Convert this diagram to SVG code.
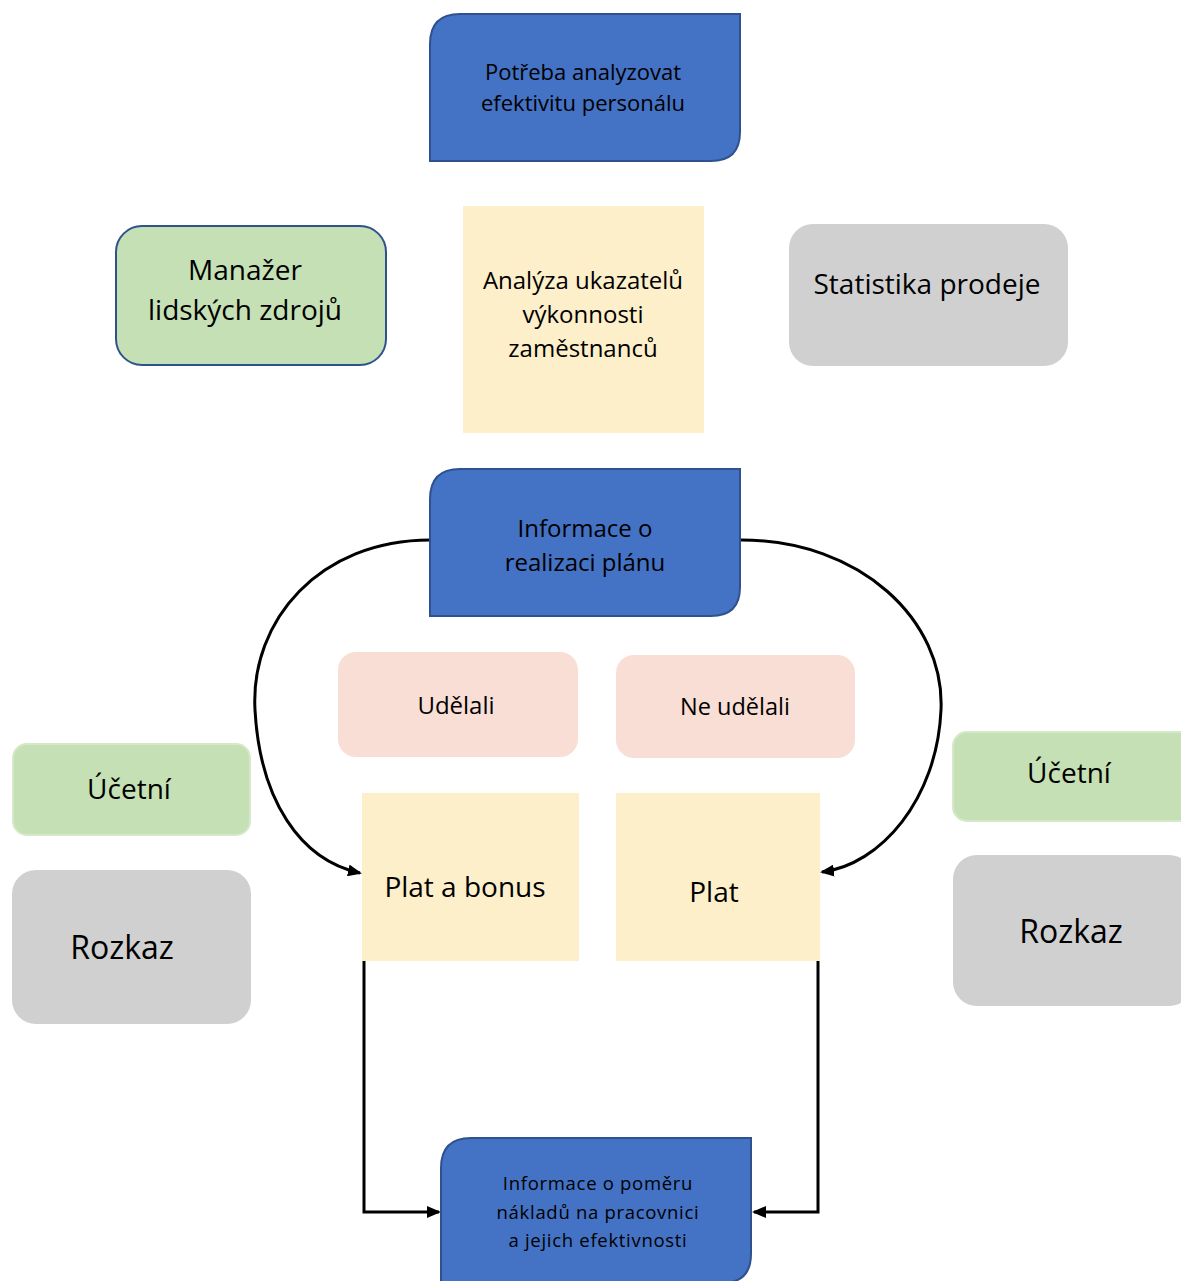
<svg xmlns="http://www.w3.org/2000/svg" width="1181" height="1281" viewBox="0 0 1181 1281">
<defs>
<style>
text{font-family:"Open Sans","Liberation Sans",sans-serif;fill:#000;text-anchor:middle}
.blue{fill:#4472C4;stroke:#2F528F;stroke-width:2}
.green{fill:#C5E0B4}
.gray{fill:#D0D0D0}
.yellow{fill:#FCEFC9}
.pink{fill:#F8DED5}
.conn{fill:none;stroke:#000;stroke-width:3}
</style>
<marker id="arr" markerWidth="14" markerHeight="12" refX="12" refY="6" orient="auto" markerUnits="userSpaceOnUse" viewBox="0 0 14 12">
<path d="M0,0 L14,6 L0,12 z" fill="#000"/>
</marker>
</defs>
<rect width="1181" height="1281" fill="#fff"/>
<g id="connectors">
<path class="conn" d="M430,540 C320,540 250,620 255,710 C260,800 300,860 360,873" marker-end="url(#arr)"/>
<path class="conn" d="M741,540 C860,540 945,620 941,710 C937,800 880,865 822,872" marker-end="url(#arr)"/>
<path class="conn" d="M364,961 L364,1212 L439,1212" marker-end="url(#arr)"/>
<path class="conn" d="M818,961 L818,1212 L754,1212" marker-end="url(#arr)"/>
</g>
<g id="n-potreba">
<path class="blue" d="M460,14 L740,14 L740,132 Q740,161 711,161 L430,161 L430,44 Q430,14 460,14 z"/>
<text x="583" y="80" font-size="22">Potřeba analyzovat</text>
<text x="583" y="111" font-size="22">efektivitu personálu</text>
</g>
<g id="n-manazer">
<rect class="green" x="116" y="226" width="270" height="139" rx="26" stroke="#2F528F" stroke-width="2"/>
<text x="245" y="280" font-size="28">Manažer</text>
<text x="245" y="320" font-size="28">lidských zdrojů</text>
</g>
<g id="n-analyza">
<rect class="yellow" x="463" y="206" width="241" height="227"/>
<text x="583" y="289" font-size="24">Analýza ukazatelů</text>
<text x="583" y="323" font-size="24">výkonnosti</text>
<text x="583" y="357" font-size="24">zaměstnanců</text>
</g>
<g id="n-statistika">
<rect class="gray" x="789" y="224" width="279" height="142" rx="24"/>
<text x="927" y="294" font-size="28">Statistika prodeje</text>
</g>
<g id="n-informace">
<path class="blue" d="M460,469 L740,469 L740,587 Q740,616 711,616 L430,616 L430,499 Q430,469 460,469 z"/>
<text x="585" y="537" font-size="24">Informace o</text>
<text x="585" y="571" font-size="24">realizaci plánu</text>
</g>
<g id="n-udelali">
<rect class="pink" x="338" y="652" width="240" height="105" rx="18"/>
<text x="456" y="714" font-size="24">Udělali</text>
</g>
<g id="n-neudelali">
<rect class="pink" x="616" y="655" width="239" height="103" rx="18"/>
<text x="735" y="715" font-size="23.5">Ne udělali</text>
</g>
<g id="n-ucetni-l">
<rect class="green" x="13" y="744" width="237" height="91" rx="14" stroke="#D5E8C8" stroke-width="2"/>
<text x="129" y="799" font-size="28">Účetní</text>
</g>
<g id="n-rozkaz-l">
<rect class="gray" x="12" y="870" width="239" height="154" rx="24"/>
<text x="122" y="959" font-size="32">Rozkaz</text>
</g>
<g id="n-ucetni-r">
<rect class="green" x="953" y="732" width="240" height="89" rx="14" stroke="#D5E8C8" stroke-width="2"/>
<text x="1069" y="783" font-size="28">Účetní</text>
</g>
<g id="n-rozkaz-r">
<rect class="gray" x="953" y="855" width="240" height="151" rx="24"/>
<text x="1071" y="943" font-size="32">Rozkaz</text>
</g>
<g id="n-platbonus">
<rect class="yellow" x="362" y="793" width="217" height="168"/>
<text x="465" y="897" font-size="28">Plat a bonus</text>
</g>
<g id="n-plat">
<rect class="yellow" x="616" y="793" width="204" height="168"/>
<text x="714" y="902" font-size="28">Plat</text>
</g>
<g id="n-pomer">
<path class="blue" d="M471,1138 L751,1138 L751,1254 Q751,1283 722,1283 L441,1283 L441,1168 Q441,1138 471,1138 z"/>
<text x="598" y="1190" font-size="18.5" letter-spacing="0.7">Informace o poměru</text>
<text x="598" y="1219" font-size="18.5" letter-spacing="0.7">nákladů na pracovnici</text>
<text x="598" y="1247" font-size="18.5" letter-spacing="0.7">a jejich efektivnosti</text>
</g>
</svg>
